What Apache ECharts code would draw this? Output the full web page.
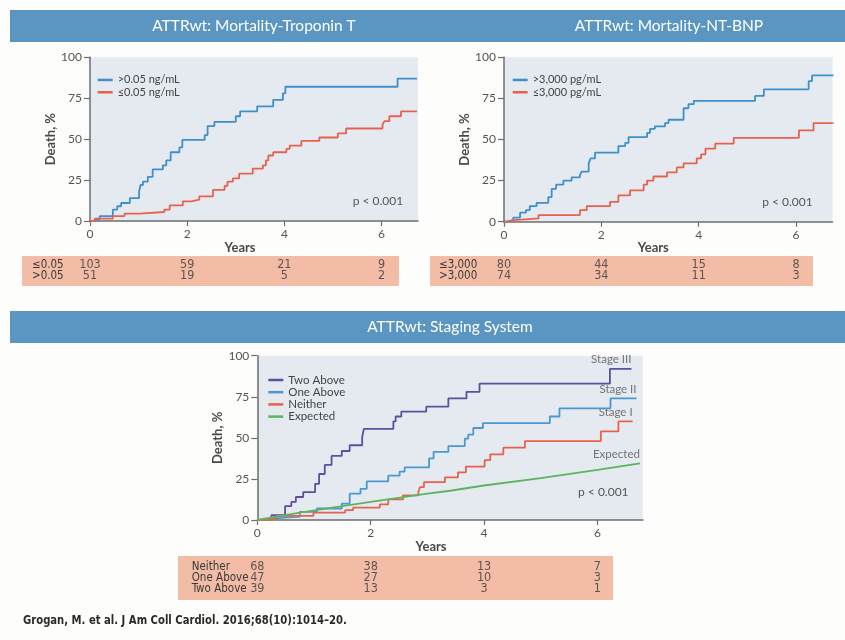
<!DOCTYPE html>
<html><head><meta charset="utf-8">
<script src="https://cdn.jsdelivr.net/npm/echarts@6/dist/echarts.min.js"></script>
<style>html,body{margin:0;padding:0;background:#fdfdfc}#c{width:845px;height:640px}</style>
</head><body><div id="c"></div><script>
const FONT = 'Lato, "Open Sans", sans-serif';
const NARROW = '"Liberation Sans Narrow", "DejaVu Sans Condensed", sans-serif';

// ---- Troponin T panel (years, death %) ----
const tropHigh = [[0,0],[0.05,1],[0.2,3],[0.47,7],[0.56,9],[0.64,11],[0.82,14],[1.01,18],[1.04,22],[1.09,24],[1.19,27],[1.29,31.5],[1.5,34],[1.57,37],[1.66,42],[1.84,45],[1.9,49.5],[2.36,52.5],[2.42,58],[2.56,60.5],[3.0,64],[3.09,67],[3.44,70],[3.77,74],[3.97,78],[4.02,82],[6.33,87],[6.73,87]];
const tropLow = [[0,0],[0.1,1.5],[0.47,3],[0.71,4.5],[1.02,5.5],[1.53,7],[1.64,9.5],[1.91,12],[2.08,13],[2.25,15],[2.53,19],[2.77,21.5],[2.83,24],[2.94,26],[3.07,29],[3.35,32],[3.56,34],[3.62,37],[3.67,40],[3.77,42],[4.04,44],[4.11,46],[4.35,49],[4.72,51],[5.1,53.5],[5.27,56.5],[6.02,59],[6.06,61],[6.16,64],[6.4,67],[6.73,67]];
// ---- NT-BNP panel ----
const bnpHigh = [[0,0],[0.05,1],[0.19,2.5],[0.33,5.5],[0.45,7],[0.53,9.5],[0.67,11.5],[0.91,15],[0.98,20],[1.07,22.5],[1.22,25],[1.39,27],[1.56,28.5],[1.6,30.5],[1.74,35.5],[1.78,38.5],[1.87,42],[2.35,46],[2.49,48],[2.56,51.5],[2.94,54],[3.0,56.5],[3.1,58],[3.31,60],[3.38,62],[3.69,69],[3.79,71.5],[3.9,73.5],[5.16,76.5],[5.34,80.5],[6.26,85.5],[6.33,89],[6.77,89]];
const bnpLow = [[0,0],[0.06,1],[0.21,2],[0.71,4],[1.56,7],[1.7,9.5],[2.18,12],[2.35,16],[2.59,19],[2.87,22.5],[2.94,25],[3.07,27.5],[3.35,30],[3.55,33],[3.69,35.5],[3.96,38.5],[4.05,41],[4.14,44.5],[4.34,47.5],[4.72,51],[6.06,55.5],[6.36,60],[6.77,60]];
// ---- Staging panel ----
const twoAbove = [[0,0],[0.1,1],[0.25,3],[0.49,8.5],[0.6,11],[0.68,14],[0.81,17],[1.02,22],[1.09,28],[1.19,33.5],[1.31,39],[1.49,42],[1.63,45.5],[1.85,50.5],[1.88,55.5],[2.4,60],[2.44,63],[2.54,66],[2.98,69],[3.37,74],[3.69,78],[3.92,83],[6.22,92],[6.6,92]];
const oneAbove = [[0,0],[0.22,1],[0.29,2],[0.75,5],[1.05,7],[1.49,10],[1.63,16],[1.82,19],[1.93,23.5],[2.31,27],[2.51,29.5],[2.6,32],[3.03,37.5],[3.11,41.5],[3.37,45],[3.66,49.5],[3.72,52],[3.81,56],[3.98,59],[5.16,63],[5.33,68],[6.23,74],[6.69,74]];
const neither = [[0,0],[0.16,1],[0.34,2.5],[0.99,4.5],[1.55,6],[1.69,7.5],[2.16,9.5],[2.31,12.5],[2.57,15],[2.84,17],[2.87,20],[2.94,23],[3.31,26],[3.54,29],[3.68,32.5],[4.01,36.5],[4.11,40],[4.34,44],[4.72,48],[6.06,54],[6.37,60],[6.62,60]];
const expected = [[0,0],[0.75,4.5],[1.5,8.5],[2,11],[3,16],[3.4,17.8],[4,21],[5,25.5],[6,30.5],[6.75,34.5]];
const stageLabels = ['Stage III','Stage II','Stage I','Expected'];

// ---- numbers at risk ----
const riskTimes = [0,2,4,6];
const tropRows = ['≤0.05','>0.05'];
const tropRiskLow = [103,59,21,9];
const tropRiskHigh = [51,19,5,2];
const bnpRows = ['≤3,000','>3,000'];
const bnpRiskLow = [80,44,15,8];
const bnpRiskHigh = [74,34,11,3];
const stageRows = ['Neither','One Above','Two Above'];
const stageRiskNeither = [68,38,13,7];
const stageRiskOne = [47,27,10,3];
const stageRiskTwo = [39,13,3,1];

const C = {blue:'#3f8fcb', red:'#e5634d', purple:'#5c4f9f', lblue:'#4b97cf', sred:'#e8614b', green:'#5bb560',
  axis:'#6d6e71', text:'#444', plotBg:'#e5eaf0', header:'#5a96c1', table:'#f2bca6'};

const plots = [
  {left:90, top:57.3, width:328, height:163.7, max:6.75, namePad:28, nameGap:15},
  {left:504, top:57.3, width:328.5, height:164.4, max:6.75, namePad:30, nameGap:16},
  {left:257.3, top:355.7, width:385.5, height:164.3, max:6.8, namePad:38, nameGap:15}
];
const tables = [
  {top:259.5, height:22, rows:tropRows, margin:58, series:[tropRiskLow, tropRiskHigh]},
  {top:259.5, height:22, rows:bnpRows, margin:65, series:[bnpRiskLow, bnpRiskHigh]},
  {top:561.2, height:33, rows:stageRows, margin:65.6, series:[stageRiskNeither, stageRiskOne, stageRiskTwo]}
];

const grid = [], xAxis = [], yAxis = [], series = [];
plots.forEach((p, i) => {
  grid.push({left:p.left, top:p.top, width:p.width, height:p.height, show:true, backgroundColor:C.plotBg, borderWidth:0, containLabel:false, outerBoundsMode:'none'});
  xAxis.push({type:'value', gridIndex:i, min:0, max:p.max, interval:2, name:'Years', nameLocation:'middle', nameGap:p.nameGap,
    nameTextStyle:{fontFamily:FONT, fontSize:13, fontWeight:'bold', color:'#4a4a4a', padding:[0,p.namePad,0,0]},
    axisLine:{show:true, lineStyle:{color:C.axis, width:1.5}},
    axisTick:{show:true, length:5, customValues:riskTimes, lineStyle:{color:C.axis, width:1.2}},
    axisLabel:{fontFamily:FONT, fontSize:12, color:'#555', margin:7, customValues:riskTimes}, splitLine:{show:false}});
  yAxis.push({type:'value', gridIndex:i, min:0, max:100, interval:25, name:'Death, %', nameLocation:'middle', nameGap:29,
    nameTextStyle:{fontFamily:FONT, fontSize:13, fontWeight:'bold', color:'#4a4a4a'},
    axisLine:{show:true, lineStyle:{color:C.axis, width:1.5}}, axisTick:{show:true, length:6, lineStyle:{color:C.axis, width:1.2}},
    axisLabel:{fontFamily:FONT, fontSize:12, color:'#555', margin:8}, splitLine:{show:false}});
});
tables.forEach((t, k) => {
  const p = plots[k];
  const gi = grid.length;
  grid.push({left:p.left, top:t.top, width:p.width, height:t.height, show:false, containLabel:false, outerBoundsMode:'none'});
  xAxis.push({type:'value', gridIndex:gi, min:0, max:p.max, show:false});
  yAxis.push({type:'category', gridIndex:gi, data:t.rows, inverse:true, axisLine:{show:false}, axisTick:{show:false}, splitLine:{show:false},
    axisLabel:{interval:0, hideOverlap:false, align:'left', margin:t.margin, fontFamily:NARROW, fontSize:11.5, color:'#3a3a3a'}});
  t.series.forEach((vals, r) => {
    series.push({type:'scatter', name:'risk'+k+'_'+r, xAxisIndex:gi, yAxisIndex:gi, symbolSize:1, itemStyle:{color:'rgba(0,0,0,0)'},
      silent:true, data: riskTimes.map((tm, j) => [tm, t.rows[r], vals[j]]),
      label:{show:true, position:'inside', formatter: d => String(d.value[2]), fontFamily:NARROW, fontSize:12.5, color:'#3a3a3a'}});
  });
});

function km(name, data, color, idx, step) {
  return {type:'line', name, data, step: step ? 'end' : false, xAxisIndex:idx, yAxisIndex:idx, showSymbol:false, symbol:'none',
    lineStyle:{width:1.8, color}, itemStyle:{color}, z:3, silent:true, animation:false};
}
series.push(km('>0.05 ng/mL', tropHigh, C.blue, 0, true));
series.push(km('≤0.05 ng/mL', tropLow, C.red, 0, true));
series.push(km('>3,000 pg/mL', bnpHigh, C.blue, 1, true));
series.push(km('≤3,000 pg/mL', bnpLow, C.red, 1, true));
series.push(km('Two Above', twoAbove, C.purple, 2, true));
series.push(km('One Above', oneAbove, C.lblue, 2, true));
series.push(km('Neither', neither, C.sred, 2, true));
series.push(km('Expected', expected, C.green, 2, false));
series.push({type:'scatter', name:'stageLabels', xAxisIndex:2, yAxisIndex:2, symbolSize:1, itemStyle:{color:'rgba(0,0,0,0)'}, silent:true,
  data:[twoAbove, oneAbove, neither, expected].map(a => a[a.length-1]),
  label:{show:true, position:'top', align:'right', distance:3, formatter: d => stageLabels[d.dataIndex], fontFamily:FONT, fontSize:11.5, color:'#555'}});

const legendBase = {orient:'vertical', icon:'rect', itemWidth:15, itemHeight:2.5, itemGap:0, padding:0, selectedMode:false,
  textStyle:{fontFamily:FONT, fontSize:11, color:C.text, lineHeight:12.3}};
const legend = [
  Object.assign({}, legendBase, {left:97.7, top:73.8, data:['>0.05 ng/mL','≤0.05 ng/mL']}),
  Object.assign({}, legendBase, {left:512.7, top:73.8, data:['>3,000 pg/mL','≤3,000 pg/mL']}),
  Object.assign({}, legendBase, {left:268.3, top:373.9, data:['Two Above','One Above','Neither','Expected'], textStyle:{fontFamily:FONT, fontSize:11.5, color:C.text, lineHeight:12.2}})
];

const headerText = (x, y, text) => ({type:'text', x, y, style:{text, fill:'#fff', font:'15.5px ' + FONT, align:'center', verticalAlign:'middle'}});
const pText = (x, y) => ({type:'text', x, y, style:{text:'p < 0.001', fill:'#555', font:'12px ' + FONT, align:'center', verticalAlign:'middle'}});
const graphic = [
  {type:'rect', shape:{x:10, y:10, width:835, height:32}, style:{fill:C.header}},
  {type:'rect', shape:{x:10, y:311, width:835, height:32}, style:{fill:C.header}},
  headerText(254, 26, 'ATTRwt: Mortality-Troponin T'),
  headerText(669, 26, 'ATTRwt: Mortality-NT-BNP'),
  headerText(450, 327, 'ATTRwt: Staging System'),
  {type:'rect', shape:{x:22, y:256, width:377, height:30}, style:{fill:C.table}},
  {type:'rect', shape:{x:430, y:256, width:383, height:30}, style:{fill:C.table}},
  {type:'rect', shape:{x:178, y:556, width:435, height:44}, style:{fill:C.table}},
  pText(378, 201), pText(787.5, 201.7), pText(603.3, 492.3),
  {type:'text', x:23, y:621, scaleX:0.86, style:{text:'Grogan, M. et al. J Am Coll Cardiol. 2016;68(10):1014–20.', fill:'#2a2a2a', font:'bold 13px ' + NARROW, verticalAlign:'middle'}}
];

const chart = echarts.init(document.getElementById('c'), null, {renderer:'canvas'});
chart.setOption({animation:false, backgroundColor:'#fdfdfc', grid, xAxis, yAxis, series, legend, graphic});
</script></body></html>
